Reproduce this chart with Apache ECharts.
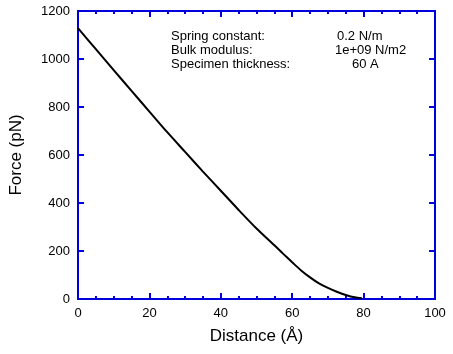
<!DOCTYPE html>
<html>
<head>
<meta charset="utf-8">
<script src="https://cdn.jsdelivr.net/npm/echarts@6/dist/echarts.min.js"></script>
<style>
html,body{margin:0;padding:0;background:#fff;}
#chart{width:453px;height:354px;}
</style>
</head>
<body>
<div id="chart"></div>
<script>
// Data
const distance = [0, 5, 10, 15, 20, 25, 30, 35, 40, 45, 50, 55, 57.5, 60, 62.5, 65, 67.5, 70, 72.5, 75, 77.5, 79.5];
const force = [1129, 1041, 954, 867, 781, 695, 613, 531, 451, 371, 294, 224, 188, 153, 119, 90, 65, 46, 30, 17, 7, 3];
const xTicks = [0, 20, 40, 60, 80, 100];
const yTicks = [0, 200, 400, 600, 800, 1000, 1200];
const paramLabels = ['Spring constant:', 'Bulk modulus:', 'Specimen thickness:'];
const paramValues = ['0.2 N/m', '1e+09 N/m2', '60 A'];

const blue = '#0000dc';
const font = '"Liberation Sans", Arial, Helvetica, sans-serif';
const xMin = xTicks[0], xMax = xTicks[xTicks.length - 1];
const yMin = yTicks[0], yMax = yTicks[yTicks.length - 1];

const W = 453, H = 354;
const grid = {left: 76, right: 18, top: 11, bottom: 55};
const plotW = W - grid.left - grid.right;
const plotH = H - grid.top - grid.bottom;
const xPerPx = (xMax - xMin) / plotW;
const yPerPx = (yMax - yMin) / plotH;

// minor x ticks: 4 subdivisions per major interval
const xMinor = [];
for (let i = 0; i < xTicks.length - 1; i++) {
  const step = (xTicks[i + 1] - xTicks[i]) / 4;
  for (let k = 1; k < 4; k++) xMinor.push(xTicks[i] + k * step);
}

// mirrored inward ticks on top and right edges (as mark lines in data space)
const mirrorTicks = [];
xTicks.slice(1, -1).forEach(v => mirrorTicks.push([{coord: [v, yMax]}, {coord: [v, yMax - 6 * yPerPx]}]));
xMinor.forEach(v => mirrorTicks.push([{coord: [v, yMax]}, {coord: [v, yMax - 3 * yPerPx]}]));
yTicks.slice(1, -1).forEach(v => mirrorTicks.push([{coord: [xMax, v]}, {coord: [xMax - 6 * xPerPx, v]}]));

const graphics = [];
const valueLeft = [337, 335, 352];
paramLabels.forEach((t, i) => {
  graphics.push({type: 'text', left: 171, top: 30 + i * 14,
    style: {text: t, font: '13px ' + font, fill: '#000'}});
  graphics.push({type: 'text', left: valueLeft[i], top: 30 + i * 14,
    style: {text: paramValues[i], font: '13px ' + font, fill: '#000'}});
});

const chart = echarts.init(document.getElementById('chart'), null, {renderer: 'canvas'});
chart.setOption({
  animation: false,
  grid: {left: grid.left, right: grid.right, top: grid.top, bottom: grid.bottom,
    show: true, borderColor: blue, borderWidth: 2},
  xAxis: {
    type: 'value', min: xMin, max: xMax, interval: xTicks[1] - xTicks[0],
    name: 'Distance (Å)', nameLocation: 'middle', nameGap: 29,
    nameTextStyle: {fontFamily: font, fontSize: 17, color: '#000'},
    axisLine: {show: true, onZero: false, lineStyle: {color: blue, width: 2}},
    axisTick: {show: true, inside: true, length: 6, lineStyle: {color: blue, width: 2}},
    minorTick: {show: true, splitNumber: 4, length: 3, lineStyle: {color: blue, width: 2}},
    splitLine: {show: false}, minorSplitLine: {show: false},
    axisLabel: {margin: 8, fontFamily: font, fontSize: 13, color: '#000', formatter: v => String(v)}
  },
  yAxis: {
    type: 'value', min: yMin, max: yMax, interval: yTicks[1] - yTicks[0],
    name: 'Force (pN)', nameLocation: 'middle', nameGap: 53,
    nameTextStyle: {fontFamily: font, fontSize: 17, color: '#000'},
    axisLine: {show: true, onZero: false, lineStyle: {color: blue, width: 2}},
    axisTick: {show: true, inside: true, length: 6, lineStyle: {color: blue, width: 2}},
    splitLine: {show: false},
    axisLabel: {margin: 8, fontFamily: font, fontSize: 13, color: '#000', formatter: v => String(v)}
  },
  series: [{
    type: 'line',
    data: distance.map((d, i) => [d, force[i]]),
    showSymbol: false, symbol: 'none', smooth: 0.3,
    lineStyle: {color: '#000', width: 2},
    markLine: {
      symbol: 'none', silent: true, animation: false,
      label: {show: false},
      lineStyle: {color: blue, width: 2, type: 'solid'},
      data: mirrorTicks
    }
  }],
  graphic: graphics
});
</script>
</body>
</html>
